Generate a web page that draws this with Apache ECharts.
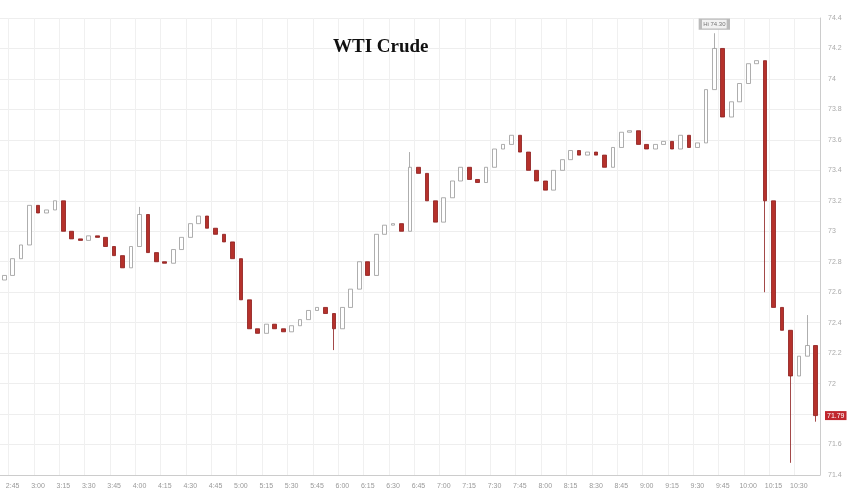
<!DOCTYPE html><html><head><meta charset="utf-8"><script src="https://cdn.jsdelivr.net/npm/echarts@6/dist/echarts.min.js"></script><style>body{margin:0}#c{width:848px;height:496px}</style></head><body><div id="c"></div><script>
const startPrice = 72.68;
const closes = [72.71,72.82,72.91,73.17,73.12,73.14,73.2,73.0,72.95,72.94,72.97,72.96,72.9,72.84,72.76,72.9,73.11,72.86,72.8,72.79,72.88,72.96,73.05,73.1,73.02,72.98,72.93,72.82,72.55,72.36,72.33,72.39,72.36,72.34,72.38,72.42,72.48,72.5,72.46,72.36,72.5,72.62,72.8,72.71,72.98,73.04,73.05,73.0,73.42,73.38,73.2,73.06,73.22,73.33,73.42,73.34,73.32,73.42,73.54,73.57,73.63,73.52,73.4,73.33,73.27,73.4,73.47,73.53,73.5,73.52,73.5,73.42,73.55,73.65,73.66,73.57,73.54,73.57,73.59,73.54,73.63,73.55,73.58,73.93,74.2,73.75,73.85,73.97,74.1,74.12,73.2,72.5,72.35,72.05,72.18,72.25,71.79];
const wickLows = {39:72.22, 93:71.48, 90:72.6, 96:71.75};
const wickHighs = {84:74.3, 95:72.45, 48:73.52, 16:73.16};
const yTicks = [71.4,71.6,71.8,72,72.2,72.4,72.6,72.8,73,73.2,73.4,73.6,73.8,74,74.2,74.4];
const times = closes.map((_, i) => { const m = 160 + 5*i; return Math.floor(m/60) + ':' + String(m%60).padStart(2,'0'); });
const data = closes.map((c, i) => { const o = i ? closes[i-1] : startPrice; const lo = wickLows[i] ?? Math.min(o,c); const hi = wickHighs[i] ?? Math.max(o,c); return [o, c, lo, hi]; });
const chart = echarts.init(document.getElementById('c'));
chart.setOption({
  animation:false, backgroundColor:'#fff',
  title:{text:'WTI Crude', left:328, top:33, textStyle:{fontFamily:'Liberation Serif', fontWeight:'bold', fontSize:19, color:'#111'}},
  grid:{left:0, right:28, top:18, bottom:21},
  xAxis:{type:'category', data:times, boundaryGap:true,
    axisLine:{lineStyle:{color:'#ccc'}}, axisTick:{show:false},
    axisLabel:{color:'#999', fontSize:7, interval:(i,v)=>v.endsWith('00')||v.endsWith('15')||v.endsWith('30')||v.endsWith('45')},
    splitLine:{show:true, interval:(i,v)=>v.endsWith('00')||v.endsWith('15')||v.endsWith('30')||v.endsWith('45'), lineStyle:{color:'#f0f0f0'}}},
  yAxis:{type:'value', position:'right', min:71.4, max:74.4, interval:0.2, scale:true,
    axisLine:{show:true, lineStyle:{color:'#ccc'}}, axisTick:{show:false},
    axisLabel:{color:'#aaa', fontSize:7, formatter:v=>yTicks.includes(+v.toFixed(1))?String(+v.toFixed(1)):''},
    splitLine:{lineStyle:{color:'#eee'}}},
  series:[{type:'candlestick', data, barMaxWidth:5,
    itemStyle:{color:'#ffffff', color0:'#b5312b', borderColor:'#999', borderColor0:'#8b1a1a', borderWidth:0.8},
    markPoint:{symbol:'rect', symbolSize:[28,10], itemStyle:{color:'#f2f2f2', borderColor:'#bbb'},
      data:[{coord:[times[84],74.36], value:'Hi 74.30'}], label:{color:'#777', fontSize:6, formatter:'{c}'}},
    markLine:{symbol:'none', silent:true, lineStyle:{color:'rgba(0,0,0,0)'},
      data:[{yAxis:closes[closes.length-1]}],
      label:{position:'end', formatter:String(closes[closes.length-1]), backgroundColor:'#c0262d', color:'#fff', fontSize:7, padding:[1,2]}}}]
});
</script></body></html>
